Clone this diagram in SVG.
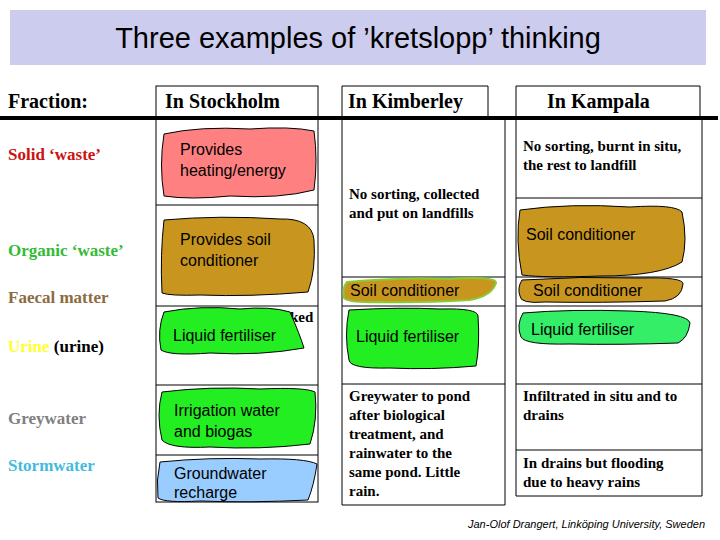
<svg xmlns="http://www.w3.org/2000/svg" width="720" height="540" viewBox="0 0 720 540">
<style>
.h{font-family:"Liberation Serif",serif;font-weight:bold;font-size:20px;fill:#000}
.f{font-family:"Liberation Serif",serif;font-weight:bold;font-size:17px}
.c{font-family:"Liberation Serif",serif;font-weight:bold;font-size:15px;fill:#000}
.s{font-family:"Liberation Sans",Arial,sans-serif;font-size:16px;fill:#000}
.box{fill:none;stroke:#000;stroke-width:1}
.bl{stroke:#000;stroke-width:1}
</style>
<rect x="10" y="10" width="696" height="55" fill="#ccccee"/>
<text x="358" y="48" text-anchor="middle" font-family="Liberation Sans, Arial, sans-serif" font-size="29" fill="#000">Three examples of ’kretslopp’ thinking</text>
<g id="grid">
<line x1="0" y1="118" x2="718" y2="118" stroke="#000" stroke-width="4"/>
<rect class="box" x="156" y="86" width="162" height="416"/>
<line class="box" x1="156" y1="205" x2="318" y2="205"/><line class="box" x1="156" y1="306" x2="318" y2="306"/><line class="box" x1="156" y1="385" x2="318" y2="385"/><line class="box" x1="156" y1="455" x2="318" y2="455"/>
<path class="box" d="M342 118V86H488V118M342 118V505H505V118"/>
<line class="box" x1="342" y1="277" x2="505" y2="277"/><line class="box" x1="342" y1="306" x2="505" y2="306"/><line class="box" x1="342" y1="384" x2="505" y2="384"/>
<path class="box" d="M516 118V86H700V118M516 118V496H702V118"/>
<line class="box" x1="516" y1="198" x2="702" y2="198"/><line class="box" x1="516" y1="277" x2="702" y2="277"/><line class="box" x1="516" y1="306" x2="702" y2="306"/><line class="box" x1="516" y1="384" x2="702" y2="384"/><line class="box" x1="516" y1="450" x2="702" y2="450"/>
</g>
<g id="headers">
<text class="h" x="8" y="108">Fraction:</text>
<text class="h" x="165" y="108">In Stockholm</text>
<text class="h" x="348" y="108">In Kimberley</text>
<text class="h" x="547" y="108">In Kampala</text>
</g>
<g id="fractions">
<text class="f" x="8" y="160" fill="#cc1111">Solid ‘waste’</text>
<text class="f" x="8" y="256" fill="#33bb33">Organic ‘waste’</text>
<text class="f" x="8" y="303" fill="#8b6b3f">Faecal matter</text>
<text class="f" x="8" y="352"><tspan fill="#ffff33">Urine</tspan><tspan fill="#000"> (urine)</tspan></text>
<text class="f" x="8" y="424" fill="#808080">Greywater</text>
<text class="f" x="8" y="471" fill="#44bbdd">Stormwater</text>
</g>
<g id="stockholm">
<text class="c" x="290" y="322">ked</text>
<path class="bl" fill="#ff8080" d="M164 134Q200 126 250 129Q290 126 314 131Q318 160 314 190Q280 199 230 196Q190 200 164 196Q159 165 164 134Z"/>
<text class="s" x="180" y="155">Provides</text><text class="s" x="180" y="176">heating/energy</text>
<path class="bl" fill="#c8961e" d="M164 220Q220 215 280 219Q312 218 314 240Q316 270 308 292Q250 297 200 295Q170 296 162 293Q160 255 164 220Z"/>
<text class="s" x="180" y="245">Provides soil</text><text class="s" x="180" y="266">conditioner</text>
<path class="bl" fill="#22ee22" d="M164 312Q200 305 240 309Q270 306 290 312Q300 335 304 348Q260 356 210 353Q170 356 161 350Q157 330 164 312Z"/>
<text class="s" x="173" y="341">Liquid fertiliser</text>
<path class="bl" fill="#22ee22" d="M162 392Q210 386 260 389Q305 387 315 392Q318 420 310 444Q260 450 210 447Q170 449 162 440Q156 415 162 392Z"/>
<text class="s" x="174" y="416">Irrigation water</text><text class="s" x="174" y="437">and biogas</text>
<path class="bl" fill="#99ccff" d="M160 462Q210 457 260 459Q305 458 317 464Q314 485 308 500Q250 503 200 501Q165 503 158 498Q156 480 160 462Z"/>
<text class="s" x="174" y="479">Groundwater</text><text class="s" x="174" y="498">recharge</text>
</g>
<g id="kimberley">
<text class="c" x="349" y="199">No sorting, collected</text>
<text class="c" x="349" y="218">and put on landfills</text>
<path fill="#c8961e" stroke="#88cc33" stroke-width="2" d="M347 282Q400 277 450 279Q497 276 496 283Q492 296 470 300Q420 303 380 302Q348 303 344 298Q342 288 347 282Z"/>
<text class="s" x="350" y="296">Soil conditioner</text>
<path class="bl" fill="#22ee22" d="M349 310Q400 307 440 309Q478 308 478 316Q480 345 476 366Q430 370 390 368Q350 369 349 360Q344 335 349 310Z"/>
<text class="s" x="356" y="342">Liquid fertiliser</text>
<text class="c" x="349" y="401">Greywater to pond</text>
<text class="c" x="349" y="420">after biological</text>
<text class="c" x="349" y="439">treatment, and</text>
<text class="c" x="349" y="458">rainwater to the</text>
<text class="c" x="349" y="477">same pond. Little</text>
<text class="c" x="349" y="496">rain.</text>
</g>
<g id="kampala">
<text class="c" x="523" y="151">No sorting, burnt in situ,</text>
<text class="c" x="523" y="170">the rest to landfill</text>
<path class="bl" fill="#c8961e" d="M520 210Q570 203 630 207Q675 204 682 212Q688 240 682 262Q660 276 600 276Q545 278 522 275Q515 240 520 210Z"/>
<text class="s" x="526" y="240">Soil conditioner</text>
<path class="bl" fill="#c8961e" d="M522 280Q580 276 640 278Q684 277 683 284Q682 298 665 301Q600 303 545 302Q520 304 520 296Q517 288 522 280Z"/>
<text class="s" x="533" y="296">Soil conditioner</text>
<path class="bl" fill="#33ee66" d="M523 313Q570 309 630 311Q688 313 690 323Q688 338 678 343Q620 345 570 344Q525 345 521 337Q516 325 523 313Z"/>
<text class="s" x="531" y="335">Liquid fertiliser</text>
<text class="c" x="523" y="401">Infiltrated in situ and to</text>
<text class="c" x="523" y="420">drains</text>
<text class="c" x="523" y="468">In drains but flooding</text>
<text class="c" x="523" y="487">due to heavy rains</text>
</g>
<text x="468" y="528" font-family="Liberation Sans, Arial, sans-serif" font-style="italic" font-size="11" fill="#000">Jan-Olof Drangert, Linköping University, Sweden</text>
</svg>
